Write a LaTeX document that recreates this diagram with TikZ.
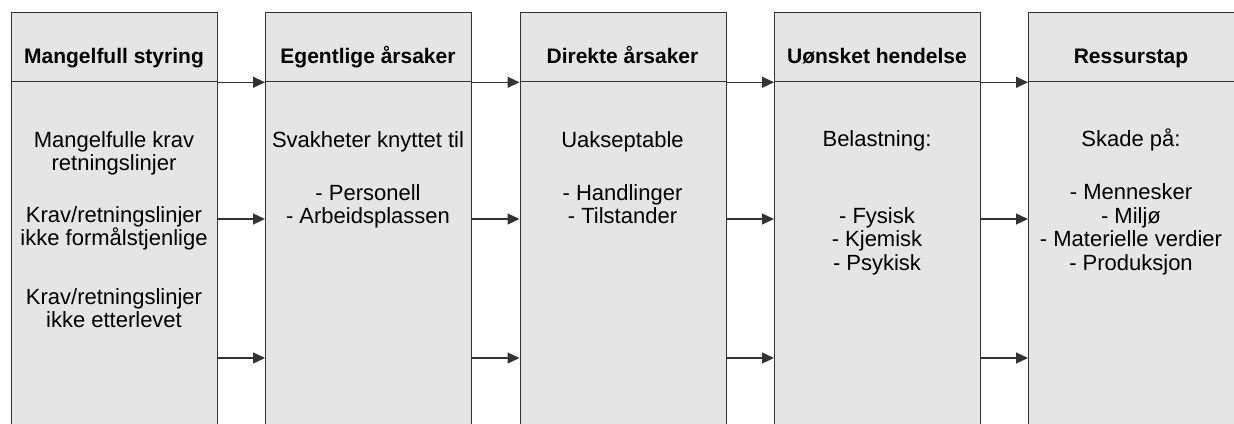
\documentclass[tikz,border=0pt]{standalone}
\usepackage{fontspec}
\setmainfont{Liberation Sans}
\usetikzlibrary{arrows.meta}
\tikzset{
    col/.style={rectangle, draw=black!80, fill=black!10, line width=1.3pt,
    	minimum width=206pt, inner sep=0pt, anchor=north west}
}
\tikzset{
    head/.style={font=\fontsize{21}{24}\selectfont\bfseries, anchor=base,
    	inner sep=0pt},
    % base of a multi-line node sits on its last line
    body/.style={font=\fontsize{22}{23.5}\selectfont, align=center,
    	anchor=base, inner sep=0pt}
}
\tikzset{
    every edge/.append style={draw=black!80, line width=1.3pt,
    	-{Triangle[length=12pt,width=11pt]}}
}

\begin{document}
\begin{tikzpicture}[x=1pt,y=-1pt]
	\useasboundingbox (0,0) rectangle (1234,423);
	\clip (0,0) rectangle (1234,423);

	% header boxes
	\node (h1) [col, minimum height=69pt] at (11,12) {};
	\node (h2) [col, minimum height=69pt] at (265,12) {};
	\node (h3) [col, minimum height=69pt] at (519.5,12) {};
	\node (h4) [col, minimum height=69pt] at (774,12) {};
	\node (h5) [col, minimum height=69pt] at (1028,12) {};
	% body boxes, running off the bottom
	\node (b1) [col, minimum height=360pt] at (11,81) {};
	\node (b2) [col, minimum height=360pt] at (265,81) {};
	\node (b3) [col, minimum height=360pt] at (519.5,81) {};
	\node (b4) [col, minimum height=360pt] at (774,81) {};
	\node (b5) [col, minimum height=360pt] at (1028,81) {};

	\node (t1) [head] at (114,63) {Mangelfull styring};
	\node (t2) [head] at (368,63) {Egentlige årsaker};
	\node (t3) [head] at (622.5,63) {Direkte årsaker};
	\node (t4) [head] at (877,63) {Uønsket hendelse};
	\node (t5) [head] at (1131,63) {Ressurstap};

	\node (x1) [body] at (114,327.5) {Mangelfulle krav\\retningslinjer\\[28pt]
		Krav/retningslinjer\\ikke formålstjenlige\\[35pt]
		Krav/retningslinjer\\ikke etterlevet};
	\node (x2) [body] at (368,223.5) {Svakheter knyttet til\\[29.5pt]
		- Personell\\- Arbeidsplassen};
	\node (x3) [body] at (622.5,223.5) {Uakseptable\\[29.5pt]
		- Handlinger\\- Tilstander};
	\node (x4) [body] at (877,270) {Belastning:\\[53pt]
		- Fysisk\\- Kjemisk\\- Psykisk};
	\node (x5) [body] at (1131,270) {Skade på:\\[29.5pt]
		- Mennesker\\- Miljø\\- Materielle verdier\\- Produksjon};

	\draw (h1.south east) edge (h2.south west); \draw (h2.south east) edge (h3.south west);
	\draw (h3.south east) edge (h4.south west); \draw (h4.south east) edge (h5.south west);
	\draw ([yshift=-138pt]b1.north east) edge ([yshift=-138pt]b2.north west);
	\draw ([yshift=-138pt]b2.north east) edge ([yshift=-138pt]b3.north west);
	\draw ([yshift=-138pt]b3.north east) edge ([yshift=-138pt]b4.north west);
	\draw ([yshift=-138pt]b4.north east) edge ([yshift=-138pt]b5.north west);
	\draw ([yshift=-277pt]b1.north east) edge ([yshift=-277pt]b2.north west);
	\draw ([yshift=-277pt]b2.north east) edge ([yshift=-277pt]b3.north west);
	\draw ([yshift=-277pt]b3.north east) edge ([yshift=-277pt]b4.north west);
	\draw ([yshift=-277pt]b4.north east) edge ([yshift=-277pt]b5.north west);
\end{tikzpicture}
\end{document}
